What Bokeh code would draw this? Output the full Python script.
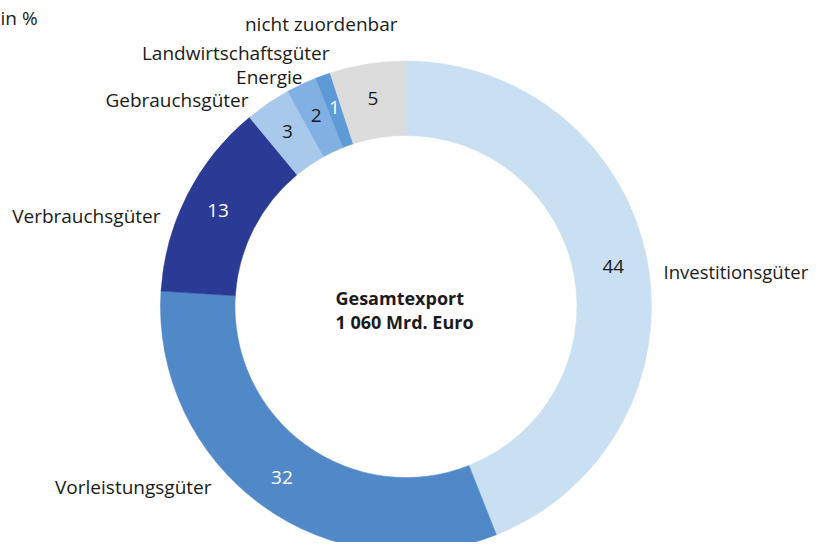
import numpy as np
from bokeh.plotting import figure
from bokeh.models import Range1d, ColumnDataSource
from bokeh.core.properties import value
from bokeh.embed import file_html
from bokeh.resources import INLINE

# ---- data ----
categories = ["Investitionsgüter", "Vorleistungsgüter", "Verbrauchsgüter",
              "Gebrauchsgüter", "Energie", "Landwirtschaftsgüter", "nicht zuordenbar"]
shares = [44, 32, 13, 3, 2, 1, 5]
colors = ["#c9dff2", "#5189c8", "#2b3a94", "#a8c9eb", "#80b1e2", "#5e9bd6", "#dcdcdc"]
value_text_colors = ["#1a1a1a", "#ffffff", "#ffffff", "#1a1a1a", "#1a1a1a", "#ffffff", "#1a1a1a"]
unit_label = "in %"
center_lines = ["Gesamtexport", "1 060 Mrd. Euro"]

FONT = "Open Sans"
W, H = 810, 542
TOP = 550  # screen-to-data flip helper

def sy(y):
    return TOP - y

cx, cy = 405.5, sy(306)
r_in, r_out = 171, 245.5
r_lab = 211

vals = np.array(shares, dtype=float)
cum = np.concatenate([[0], np.cumsum(vals)]) / vals.sum()
start = np.pi / 2 - cum[:-1] * 2 * np.pi
end = np.pi / 2 - cum[1:] * 2 * np.pi
mid = (start + end) / 2

src = ColumnDataSource(dict(start=start, end=end, color=colors,
                            lx=cx + r_lab * np.cos(mid), ly=cy + r_lab * np.sin(mid),
                            txt=[str(v) for v in shares], tcol=value_text_colors))

p = figure(width=W, height=H, output_backend="svg", toolbar_location=None,
           x_range=Range1d(0, W), y_range=Range1d(TOP - H, TOP),
           min_border=0, outline_line_color=None)
p.axis.visible = False
p.grid.visible = False
p.background_fill_color = "white"

p.annular_wedge(x=cx, y=cy, inner_radius=r_in, outer_radius=r_out,
                start_angle="start", end_angle="end", direction="clock",
                fill_color="color", line_color="color", line_width=0.5, source=src)

p.text(x="lx", y="ly", text="txt", text_color="tcol", source=src,
       text_align="center", text_baseline="middle",
       text_font=value(FONT), text_font_size="19px")

# category labels (layout anchors in screen px: x, y, align, size)
label_pos = {
    "Investitionsgüter": (663, 271, "left", "18.5px"),
    "Vorleistungsgüter": (211, 486, "right", "19px"),
    "Verbrauchsgüter": (160, 215, "right", "19px"),
    "Gebrauchsgüter": (248, 99, "right", "19px"),
    "Energie": (302, 76, "right", "19px"),
    "Landwirtschaftsgüter": (329, 52, "right", "19px"),
    "nicht zuordenbar": (397, 23, "right", "19px"),
}
for c in categories:
    x, y, al, fs = label_pos[c]
    p.text(x=[x], y=[sy(y)], text=[c], text_align=al, text_baseline="middle",
           text_color="#1a1a1a", text_font=value(FONT), text_font_size=fs)

p.text(x=[0], y=[sy(17)], text=[unit_label], text_align="left", text_baseline="middle",
       text_color="#1a1a1a", text_font=value(FONT), text_font_size="19px")

for i, t in enumerate(center_lines):
    p.text(x=[335], y=[sy(297 + 24 * i)], text=[t], text_align="left", text_baseline="middle",
           text_color="#1a1a1a", text_font=value(FONT), text_font_size="18px",
           text_font_style="bold")

open("out.html", "w").write(file_html(p, INLINE))
